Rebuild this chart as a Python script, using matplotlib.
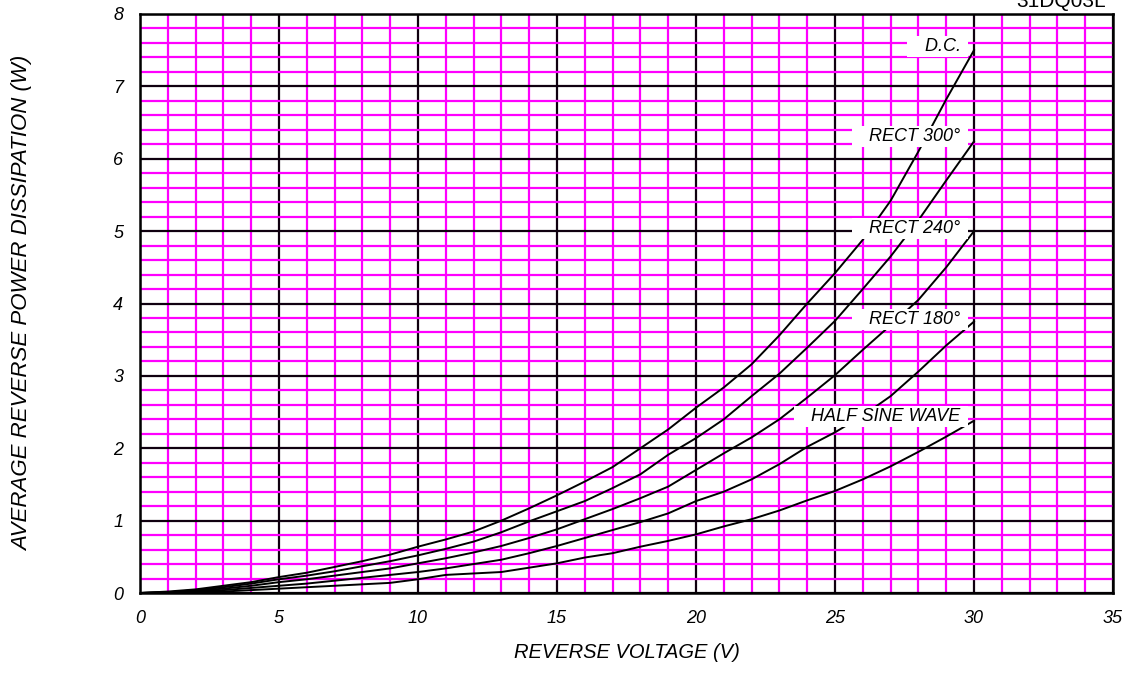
import matplotlib
matplotlib.use("Agg")
import matplotlib.pyplot as plt
from matplotlib.ticker import MultipleLocator

plt.rcParams['font.family'] = ['Liberation Sans', 'DejaVu Sans']

voltage = list(range(0, 31))
dc = [0, 0.02, 0.05, 0.10, 0.15, 0.22, 0.28, 0.36, 0.44, 0.53, 0.64, 0.74, 0.85, 1.00, 1.17,
      1.35, 1.54, 1.74, 2.00, 2.26, 2.56, 2.84, 3.16, 3.56, 4.00, 4.42, 4.88, 5.42, 6.10, 6.82, 7.50]
rect300 = [0, 0.01, 0.04, 0.08, 0.13, 0.19, 0.24, 0.30, 0.37, 0.44, 0.52, 0.61, 0.71, 0.84, 0.99,
           1.13, 1.27, 1.45, 1.64, 1.91, 2.14, 2.40, 2.72, 3.03, 3.39, 3.76, 4.20, 4.65, 5.15, 5.70, 6.24]
rect240 = [0, 0.01, 0.03, 0.06, 0.10, 0.15, 0.19, 0.24, 0.29, 0.34, 0.41, 0.48, 0.56, 0.65, 0.76,
           0.88, 1.02, 1.16, 1.31, 1.47, 1.70, 1.93, 2.15, 2.40, 2.70, 3.01, 3.36, 3.70, 4.05, 4.50, 5.00]
rect180 = [0, 0.005, 0.02, 0.04, 0.07, 0.10, 0.13, 0.17, 0.21, 0.25, 0.29, 0.34, 0.40, 0.46, 0.55,
           0.65, 0.76, 0.87, 0.98, 1.10, 1.27, 1.40, 1.57, 1.78, 2.02, 2.22, 2.45, 2.72, 3.06, 3.42, 3.75]
half_sine = [0, 0.005, 0.01, 0.02, 0.04, 0.06, 0.08, 0.10, 0.12, 0.14, 0.19, 0.25, 0.27, 0.29, 0.35,
             0.41, 0.49, 0.55, 0.64, 0.72, 0.81, 0.92, 1.02, 1.14, 1.28, 1.41, 1.57, 1.75, 1.95, 2.16, 2.38]

series = [("D.C.", dc, 7.55), ("RECT 300°", rect300, 6.31), ("RECT 240°", rect240, 5.04),
          ("RECT 180°", rect180, 3.78), ("HALF SINE WAVE", half_sine, 2.44)]

x_ticks = [0, 5, 10, 15, 20, 25, 30, 35]
y_ticks = [0, 1, 2, 3, 4, 5, 6, 7, 8]

fig = plt.figure(figsize=(11.41, 6.75), dpi=100)
ax = fig.add_axes([140/1141, 1-593/675, (1113-140)/1141, (593-14)/675])
ax.set_xlim(0, 35)
ax.set_ylim(0, 8)

ax.xaxis.set_major_locator(MultipleLocator(5))
ax.yaxis.set_major_locator(MultipleLocator(1))
ax.xaxis.set_minor_locator(MultipleLocator(1))
ax.yaxis.set_minor_locator(MultipleLocator(0.2))
ax.grid(which='minor', color='#ff00ff', linewidth=1.6, zorder=0)
ax.grid(which='major', color='#100010', linewidth=1.6, zorder=1)
ax.set_axisbelow(True)
ax.tick_params(which='both', length=0)
ax.tick_params(axis='x', pad=12)
ax.tick_params(axis='y', pad=12)
ax.set_xticks(x_ticks)
ax.set_yticks(y_ticks)
ax.set_xticklabels([str(v) for v in x_ticks], fontsize=13, fontstyle='italic')
ax.set_yticklabels([str(v) for v in y_ticks], fontsize=13, fontstyle='italic')
for s in ax.spines.values():
    s.set_linewidth(1.8)
    s.set_color('black')

for name, vals, ly in series:
    ax.plot(voltage, vals, color='black', linewidth=1.4, zorder=3)
    ax.text(29.7, ly, "   " + name + " ", ha='right', va='center', fontsize=13, fontstyle='italic',
            zorder=5, bbox=dict(facecolor='white', edgecolor='none', pad=1.5))

ax.set_xlabel("REVERSE VOLTAGE (V)", fontsize=14.5, fontstyle='italic')
ax.xaxis.set_label_coords(0.5, (593 - 652) / 579)
ax.xaxis.label.set_va('center')
ax.set_ylabel("AVERAGE REVERSE POWER DISSIPATION (W)", fontsize=16, fontstyle='italic')
ax.yaxis.set_label_coords((23 - 140) / 973, 0.5)
ax.yaxis.label.set_va('center')
ax.yaxis.label.set_ha('center')

fig.text(1106/1141, 1-7/675, "31DQ03L", ha='right', va='baseline', fontsize=15)

fig.savefig("out.png", dpi=100)
